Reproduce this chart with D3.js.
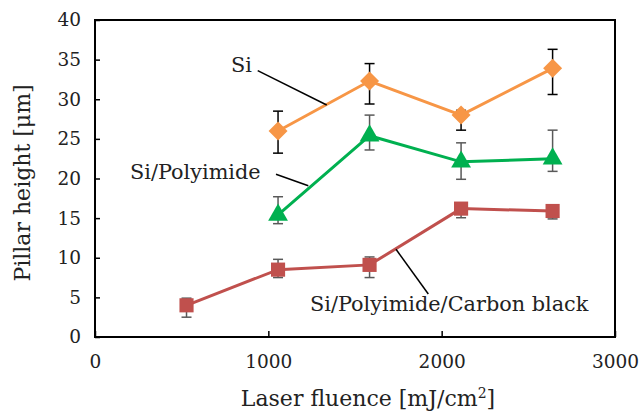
<!DOCTYPE html>
<html><head><meta charset="utf-8">
<script src="https://cdn.jsdelivr.net/npm/d3@7"></script>
<style>html,body{margin:0;padding:0;background:#fff;}svg{display:block;}</style>
</head><body>
<svg id="c" width="641" height="414"></svg>
<script>
// ---- data ----
const siX = [1056, 1584, 2112, 2640];
const siY = [26.0, 32.3, 28.0, 33.9];
const siErrLo = [23.2, 29.4, 26.1, 30.6];
const siErrHi = [28.5, 34.5, 28.6, 36.3];
const piX = [1056, 1584, 2112, 2640];
const piY = [15.4, 25.4, 22.1, 22.5];
const piErrLo = [14.3, 23.6, 19.9, 20.9];
const piErrHi = [17.7, 28.0, 24.5, 26.1];
const cbX = [528, 1056, 1584, 2112, 2640];
const cbY = [4.0, 8.5, 9.1, 16.2, 15.9];
const cbErrLo = [2.5, 7.5, 7.5, 15.05, 14.9];
const cbErrHi = [4.9, 9.8, 10.1, 16.6, 16.4];
const xTicks = [0, 1000, 2000, 3000];
const yTicks = [0, 5, 10, 15, 20, 25, 30, 35, 40];

const svg = d3.select("#c");
const FONT = "DejaVu Serif";
const L = 95, R = 615, T = 20, B = 337;
const x = d3.scaleLinear().domain([0, 3000]).range([L, R]);
const y = d3.scaleLinear().domain([0, 40]).range([B, T]);

// axes (inner ticks)
const gx = svg.append("g").attr("transform", `translate(0,${B})`)
  .call(d3.axisBottom(x).tickValues(xTicks).tickSize(-6).tickSizeOuter(0).tickPadding(18).tickFormat(d3.format("d")));
const gy = svg.append("g").attr("transform", `translate(${L},0)`)
  .call(d3.axisLeft(y).tickValues(yTicks).tickSize(-5).tickSizeOuter(0).tickPadding(14));
[gx, gy].forEach(g => {
  g.select(".domain").remove();
  g.selectAll(".tick line").attr("stroke", "#000").attr("stroke-width", 1.5);
  g.selectAll(".tick text").attr("font-family", FONT).attr("font-size", 18.5).attr("fill", "#222");
});
gx.selectAll(".tick text").attr("dy", "0.71em");

// frame
svg.append("rect").attr("x", L).attr("y", T).attr("width", R - L).attr("height", B - T)
  .attr("fill", "none").attr("stroke", "#000").attr("stroke-width", 2);

// axis titles
svg.append("text").attr("x", 368).attr("y", 406).attr("text-anchor", "middle")
  .attr("font-family", FONT).attr("font-size", 22).attr("fill", "#222")
  .html('Laser fluence [mJ/cm<tspan dy="-8" font-size="14">2</tspan><tspan dy="8">]</tspan>');
svg.append("text").attr("transform", "translate(30,183) rotate(-90)").attr("text-anchor", "middle")
  .attr("font-family", FONT).attr("font-size", 22).attr("fill", "#222").text("Pillar height [μm]");

function series(xs, ys, lo, hi, color, errColor, shape, size) {
  const pts = xs.map((v, i) => ({x: v, y: ys[i], lo: lo[i], hi: hi[i]}));
  const g = svg.append("g");
  pts.forEach(p => {
    g.append("line").attr("x1", x(p.x)).attr("x2", x(p.x)).attr("y1", y(p.lo)).attr("y2", y(p.hi))
      .attr("stroke", errColor).attr("stroke-width", 1.5);
    [p.lo, p.hi].forEach(v => g.append("line").attr("x1", x(p.x) - 5).attr("x2", x(p.x) + 5)
      .attr("y1", y(v)).attr("y2", y(v)).attr("stroke", errColor).attr("stroke-width", 1.5));
  });
  g.append("path").datum(pts).attr("fill", "none").attr("stroke", color).attr("stroke-width", 3)
    .attr("d", d3.line().x(d => x(d.x)).y(d => y(d.y)));
  g.selectAll(".m").data(pts).join("path")
    .attr("transform", d => `translate(${x(d.x)},${y(d.y)})`)
    .attr("d", d3.symbol().type(shape).size(size)).attr("fill", color);
}
series(siX, siY, siErrLo, siErrHi, "#F79646", "#000", d3.symbolDiamond2, 230);
series(piX, piY, piErrLo, piErrHi, "#00B050", "#595959", d3.symbolTriangle, 170);
series(cbX, cbY, cbErrLo, cbErrHi, "#C0504D", "#595959", d3.symbolSquare, 200);

// labels with leader lines
function label(t, tx, ty, x1, y1, x2, y2) {
  svg.append("text").attr("x", tx).attr("y", ty).attr("font-family", FONT).attr("font-size", 20.8)
    .attr("fill", "#222").text(t);
  svg.append("line").attr("x1", x1).attr("y1", y1).attr("x2", x2).attr("y2", y2)
    .attr("stroke", "#000").attr("stroke-width", 1.5);
}
label("Si", 231, 72, 257.7, 70.7, 326.7, 105);
label("Si/Polyimide", 130, 179, 276, 174.3, 308.3, 185.7);
label("Si/Polyimide/Carbon black", 310, 311, 396, 249.3, 428.3, 294);
</script>
</body></html>
